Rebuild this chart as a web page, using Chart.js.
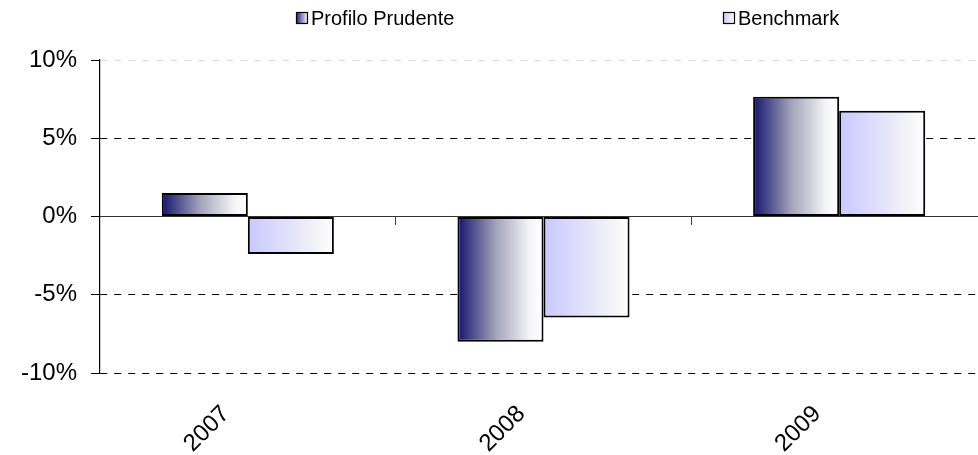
<!DOCTYPE html>
<html>
<head>
<meta charset="utf-8">
<script src="https://cdn.jsdelivr.net/npm/chart.js@4"></script>
<style>
  html, body { margin: 0; padding: 0; background: #fff; overflow: hidden; }
  #wrap { width: 1000px; height: 455px; }
</style>
</head>
<body>
<div id="wrap"><canvas id="chart" width="1000" height="455"></canvas></div>
<script>
// ===== DATA =====
const years = ['2007', '2008', '2009'];
const profilo = [1.5, -8.0, 7.65];
const benchmark = [-2.4, -6.45, 6.75];
const yTicks = [-10, -5, 0, 5, 10];
const seriesNames = ['Profilo Prudente', 'Benchmark'];

const CAT_PCT = 0.582;
const FONT = 'Liberation Sans, Arial, sans-serif';

// gradient per bar, worked out from the scales
function barGradient(c, from) {
  const chart = c.chart;
  const x = chart.scales && chart.scales.x;
  if (!x || c.dataIndex === undefined) return from;
  const center = x.getPixelForValue(c.dataIndex);
  const catW = x.getPixelForValue(1) - x.getPixelForValue(0);
  if (!isFinite(center) || !isFinite(catW) || catW <= 0) return from;
  const half = catW * CAT_PCT / 2;
  const x0 = center - half + c.datasetIndex * half;
  const g = chart.ctx.createLinearGradient(x0, 0, x0 + half, 0);
  g.addColorStop(0, from);
  if (c.datasetIndex === 0) g.addColorStop(0.45, '#a4a4bc');
  g.addColorStop(0.85, '#f6f6f8');
  g.addColorStop(1, '#ffffff');
  return g;
}

// ===== LEGEND (drawn by hand to keep the wide spacing) =====
const legendPlugin = {
  id: 'wideLegend',
  afterDraw(chart) {
    const ctx = chart.ctx;
    const items = [
      { x: 296, fill: ['#1a1a78', '#ffffff'] },
      { x: 723, fill: ['#c8c8ff', '#ffffff'] }
    ];
    ctx.save();
    ctx.font = '20px ' + FONT;
    ctx.textBaseline = 'middle';
    items.forEach((it, i) => {
      const g = ctx.createLinearGradient(it.x, 0, it.x + 12, 0);
      g.addColorStop(0, it.fill[0]);
      g.addColorStop(1, it.fill[1]);
      ctx.fillStyle = g;
      ctx.fillRect(it.x, 12, 12, 12);
      ctx.strokeStyle = '#000';
      ctx.lineWidth = 1.2;
      ctx.strokeRect(it.x + 0.5, 12.5, 11, 11);
      ctx.fillStyle = '#000';
      ctx.fillText(seriesNames[i], it.x + 15, 19);
    });
    ctx.restore();
  }
};

// ===== CHART =====
new Chart(document.getElementById('chart'), {
  type: 'bar',
  data: {
    labels: years,
    datasets: [{
      label: seriesNames[0],
      data: profilo,
      backgroundColor: c => barGradient(c, '#14146e'),
      borderColor: '#000',
      borderWidth: 2,
      borderSkipped: false,
      categoryPercentage: CAT_PCT,
      barPercentage: 1
    }, {
      label: seriesNames[1],
      data: benchmark,
      backgroundColor: c => barGradient(c, '#c8c8ff'),
      borderColor: '#000',
      borderWidth: 2,
      borderSkipped: false,
      categoryPercentage: CAT_PCT,
      barPercentage: 1
    }]
  },
  options: {
    responsive: false,
    animation: false,
    devicePixelRatio: 1,
    layout: { padding: { top: 60, right: 13, left: 0, bottom: 0 } },
    plugins: {
      legend: { display: false },
      tooltip: { enabled: false }
    },
    scales: {
      x: {
        position: 'bottom',
        grid: { display: false, drawTicks: false },
        border: { display: false },
        ticks: {
          color: '#000',
          font: { family: FONT, size: 24 },
          maxRotation: 45,
          minRotation: 45,
          labelOffset: -22,
          padding: 27,
          autoSkip: false
        },
        afterFit: s => { s.height = 82; }
      },
      x0: {
        position: { y: 0 },
        grid: { offset: true, drawOnChartArea: false, drawTicks: true, tickLength: 8, tickColor: '#444' },
        border: { display: true, color: '#333', width: 1 },
        ticks: { display: false }
      },
      y: {
        min: -10,
        max: 10,
        afterBuildTicks: s => { s.ticks = yTicks.map(v => ({ value: v })); },
        grid: {
          color: c => (c.tick && c.tick.value === 10) ? '#dcdcdc' : (c.tick && c.tick.value === 0 ? '#333' : '#000'),
          lineWidth: 1,
          tickLength: 9,
          tickColor: '#000'
        },
        border: {
          display: true,
          color: '#000',
          width: 1.2,
          dash: c => (c.tick && c.tick.value === 0) ? [] : [7, 7]
        },
        ticks: {
          color: '#000',
          font: { family: FONT, size: 24 },
          padding: 14,
          callback: v => v + '%'
        },
        afterFit: s => { s.width = 100; }
      }
    }
  },
  plugins: [legendPlugin]
});
</script>
</body>
</html>
